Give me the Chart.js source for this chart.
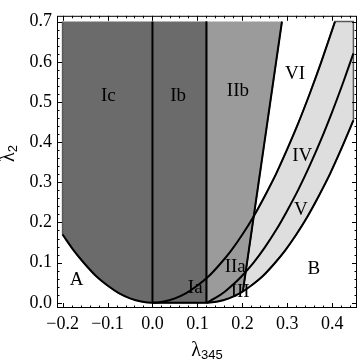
<!DOCTYPE html>
<html>
<head>
<meta charset="utf-8">
<script src="https://cdn.jsdelivr.net/npm/chart.js@4.4.1/dist/chart.umd.min.js"></script>
<style>
html, body { margin: 0; padding: 0; background: #fff; }
canvas { display: block; }
</style>
</head>
<body>
<canvas id="c" width="360" height="362"></canvas>
<script>
(function () {
	'use strict';

	// boundary curves (lambda_345 -> lambda_2)
	var lowX = [-0.2, -0.175, -0.15, -0.125, -0.1, -0.075, -0.05, -0.025, 0, 0.025, 0.05, 0.075, 0.1, 0.125, 0.15, 0.175, 0.2, 0.225, 0.25, 0.275, 0.3, 0.325, 0.35, 0.375, 0.406];
	var lowY = [0.17, 0.13, 0.096, 0.066, 0.043, 0.024, 0.011, 0.003, 0, 0.003, 0.011, 0.024, 0.043, 0.066, 0.096, 0.13, 0.17, 0.215, 0.266, 0.321, 0.383, 0.449, 0.521, 0.598, 0.7];
	var midX = [0.12, 0.14, 0.16, 0.18, 0.2, 0.225, 0.25, 0.275, 0.3, 0.325, 0.35, 0.375, 0.4, 0.425, 0.447];
	var midY = [0, 0.012, 0.027, 0.046, 0.068, 0.1, 0.138, 0.181, 0.23, 0.283, 0.342, 0.406, 0.476, 0.551, 0.621];
	var outX = [0.12, 0.145, 0.17, 0.195, 0.22, 0.245, 0.27, 0.295, 0.32, 0.345, 0.37, 0.395, 0.42, 0.447];
	var outY = [0, 0.003, 0.011, 0.024, 0.043, 0.066, 0.096, 0.13, 0.17, 0.215, 0.266, 0.321, 0.383, 0.454];
	var wallX = [0.201, 0.288];
	var wallY = [0.028, 0.7];
	var splitX = [0, 0.12];
	var topY = 0.7;
	var edgeX = [-0.2, 0.447];

	var xTicks = [-0.2, -0.1, 0, 0.1, 0.2, 0.3, 0.4];
	var yTicks = [0, 0.1, 0.2, 0.3, 0.4, 0.5, 0.6, 0.7];

	var regionNames = ['Ic', 'Ib', 'IIb', 'VI', 'IV', 'V', 'B', 'A', 'Ia', 'IIa', 'III'];
	var regionX = [-0.098, 0.057, 0.19, 0.317, 0.333, 0.33, 0.359, -0.169, 0.095, 0.184, 0.195];
	var regionY = [0.516, 0.516, 0.526, 0.569, 0.365, 0.232, 0.083, 0.056, 0.037, 0.09, 0.027];

	function pts(xs, ys, keep) {
		var out = [];
		for (var i = 0; i < xs.length; i++) {
			if (!keep || keep(xs[i])) {
				out.push({ x: xs[i], y: ys[i] });
			}
		}
		return out;
	}

	function p(x, y) {
		return { x: x, y: y };
	}

	var darkShape = [p(edgeX[0], topY)]
		.concat(pts(lowX, lowY, function (x) { return x <= splitX[0]; }))
		.concat([p(splitX[1], 0), p(splitX[1], topY)]);

	var midShape = [p(splitX[1], topY)]
		.concat(pts(outX, outY, function (x) { return x < wallX[0]; }))
		.concat([p(wallX[0], wallY[0]), p(wallX[1], wallY[1])]);

	var lightShape = [p(wallX[0], wallY[0])]
		.concat(pts(lowX, lowY, function (x) { return x >= 0.225; }))
		.concat([p(edgeX[1], topY)])
		.concat(pts(outX, outY, function (x) { return x > wallX[0]; }).reverse());

	function shape(data, color) {
		return {
			data: data, showLine: true, fill: 'shape', tension: 0,
			backgroundColor: color, borderColor: '#585858', borderWidth: 1.5,
			pointRadius: 0, order: 2
		};
	}

	function curve(data, smooth) {
		return {
			data: data, showLine: true, fill: false, tension: smooth ? 0.3 : 0,
			borderColor: '#000', borderWidth: 2, pointRadius: 0, order: 1
		};
	}

	var serif = '"Liberation Serif", "DejaVu Serif", serif';

	function fmt(v) {
		if (Math.abs(v) < 1e-9) {
			return '0.0';
		}
		return (v < 0 ? '\u2212' : '') + Math.abs(v).toFixed(1);
	}

	var decor = {
		id: 'decor',
		afterDatasetsDraw: function (chart) {
			var ctx = chart.ctx,
				a = chart.chartArea,
				xs = chart.scales.x,
				ys = chart.scales.y,
				i, v, q, len;

			ctx.save();
			ctx.strokeStyle = '#000';
			ctx.lineWidth = 1;
			ctx.strokeRect(a.left + 0.5, a.top + 0.5, a.right - a.left - 1, a.bottom - a.top - 1);

			ctx.beginPath();
			for (i = -11; i <= 23; i++) {
				v = i * 0.02;
				if (v < xs.min || v > xs.max) { continue; }
				q = Math.round(xs.getPixelForValue(v)) + 0.5;
				len = i % 5 === 0 ? 5 : 2.5;
				ctx.moveTo(q, a.bottom); ctx.lineTo(q, a.bottom - len);
				ctx.moveTo(q, a.top); ctx.lineTo(q, a.top + len);
			}
			for (i = 0; i <= 35; i++) {
				v = i * 0.02;
				if (v < ys.min || v > ys.max) { continue; }
				q = Math.round(ys.getPixelForValue(v)) + 0.5;
				len = i % 5 === 0 ? 5 : 2.5;
				ctx.moveTo(a.left, q); ctx.lineTo(a.left + len, q);
				ctx.moveTo(a.right, q); ctx.lineTo(a.right - len, q);
			}
			ctx.stroke();

			ctx.fillStyle = '#000';
			ctx.font = '19px ' + serif;
			ctx.textAlign = 'center';
			ctx.textBaseline = 'middle';
			for (i = 0; i < regionNames.length; i++) {
				ctx.fillText(regionNames[i], xs.getPixelForValue(regionX[i]), ys.getPixelForValue(regionY[i]));
			}

			// axis titles with subscripts
			ctx.textAlign = 'left';
			ctx.textBaseline = 'alphabetic';
			ctx.font = '20px ' + serif;
			var lw = ctx.measureText('\u03bb').width;
			ctx.font = '13px "Liberation Sans", Arial, sans-serif';
			var sw = ctx.measureText('345').width;
			var x0 = (a.left + a.right) / 2 - (lw + sw) / 2;
			ctx.font = '20px ' + serif;
			ctx.fillText('\u03bb', x0, 356);
			ctx.font = '13px "Liberation Sans", Arial, sans-serif';
			ctx.fillText('345', x0 + lw, 359);

			ctx.translate(14, 156);
			ctx.rotate(-Math.PI / 2);
			ctx.font = '20px ' + serif;
			ctx.fillText('\u03bb', -6, 0);
			ctx.font = '13px "Liberation Sans", Arial, sans-serif';
			ctx.fillText('2', -6 + lw, 3);
			ctx.restore();
		}
	};

	new Chart(document.getElementById('c'), {
		type: 'scatter',
		data: {
			datasets: [
				curve(pts(lowX, lowY), true),
				curve(pts(midX, midY), true),
				curve(pts(outX, outY), true),
				curve([p(wallX[0], wallY[0]), p(wallX[1], wallY[1])]),
				curve([p(splitX[0], 0), p(splitX[0], topY)]),
				curve([p(splitX[1], 0), p(splitX[1], topY)]),
				curve([p(splitX[0], 0), p(splitX[1], 0)]),
				shape(darkShape, '#6b6b6b'),
				shape(midShape, '#9b9b9b'),
				shape(lightShape, '#dedede')
			]
		},
		options: {
			responsive: false,
			animation: false,
			layout: { padding: { left: 0, right: 3, top: 6, bottom: 0 } },
			plugins: { legend: { display: false }, tooltip: { enabled: false } },
			scales: {
				x: {
					type: 'linear', min: -0.2124, max: 0.455,
					grid: { display: false, drawTicks: false },
					border: { display: false },
					afterBuildTicks: function (s) { s.ticks = xTicks.map(function (v) { return { value: v }; }); },
					afterFit: function (s) { s.height = 54; },
					ticks: { color: '#000', padding: 5, maxRotation: 0, font: { family: serif, size: 18 }, callback: fmt }
				},
				y: {
					type: 'linear', min: -0.013, max: 0.7145,
					grid: { display: false, drawTicks: false },
					border: { display: false },
					afterBuildTicks: function (s) { s.ticks = yTicks.map(function (v) { return { value: v }; }); },
					afterFit: function (s) { s.width = 57; },
					ticks: { color: '#000', padding: 5, font: { family: serif, size: 18 }, callback: fmt }
				}
			}
		},
		plugins: [decor]
	});
}());
</script>
</body>
</html>
